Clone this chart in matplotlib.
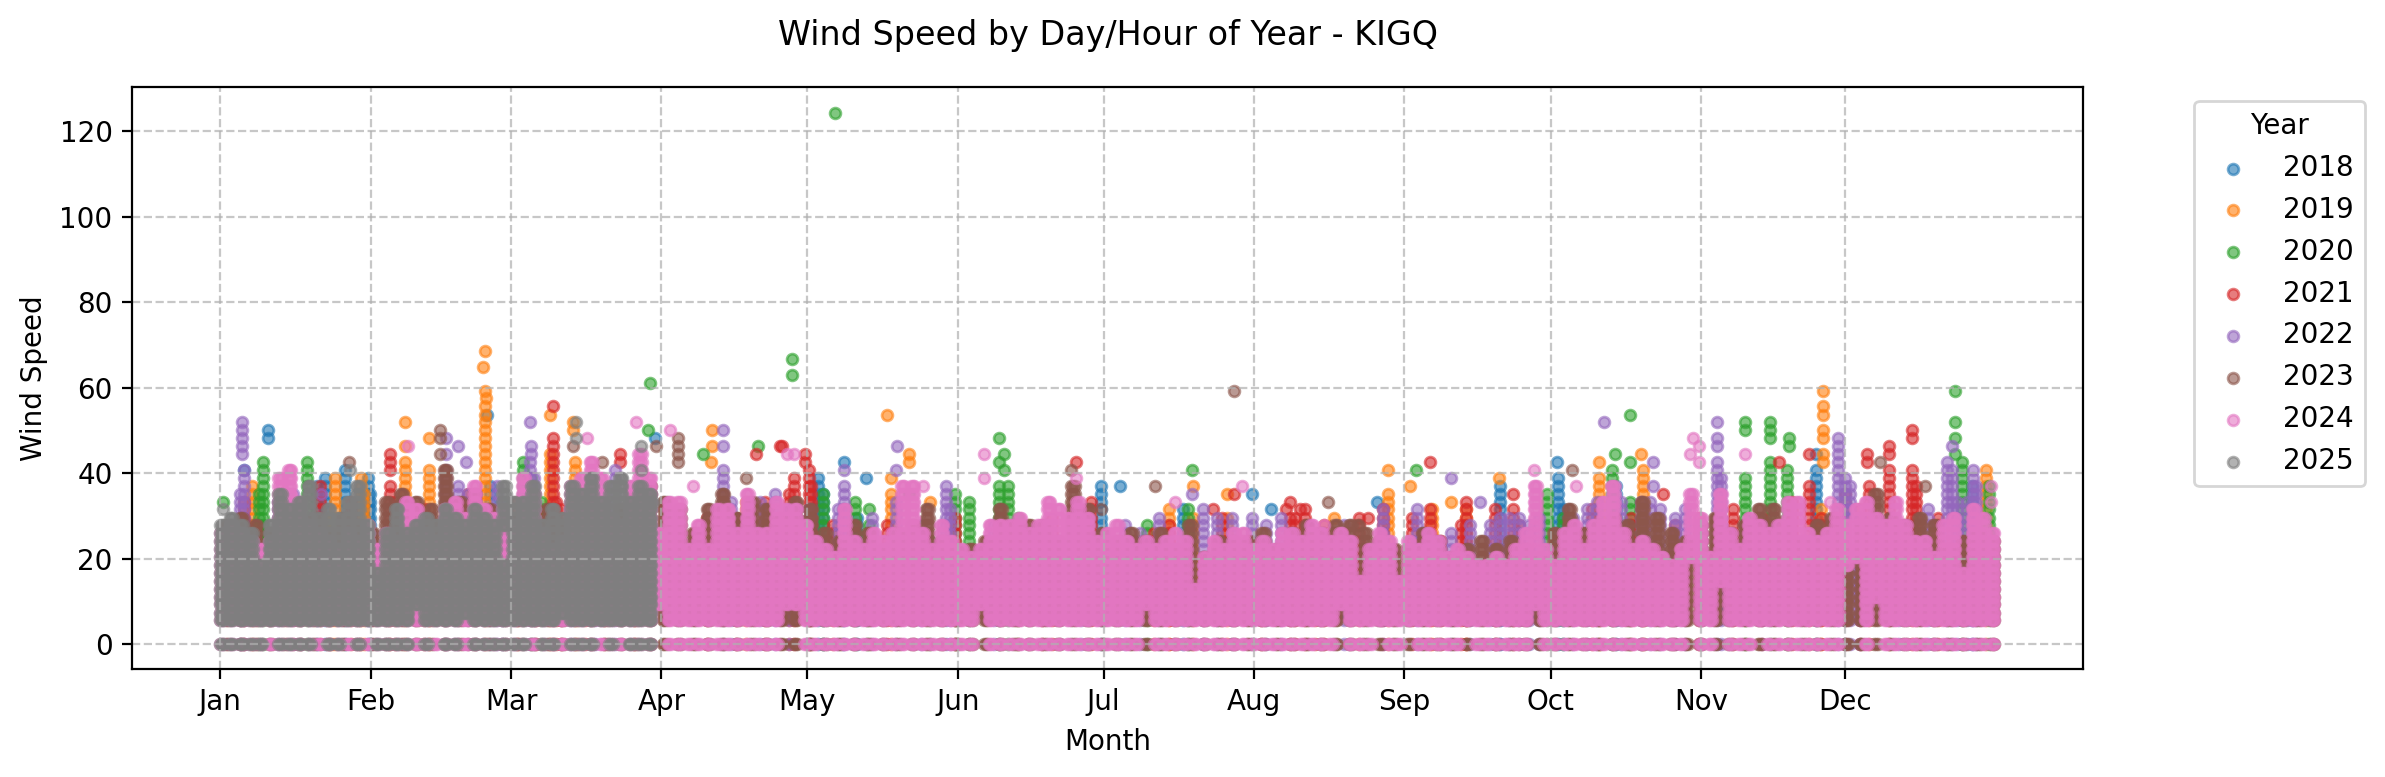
import matplotlib
matplotlib.use("Agg")
import matplotlib.pyplot as plt

# Values. x is day of year, y is wind speed.
years = [2018, 2019, 2020, 2021, 2022, 2023, 2024, 2025]
year_colors = ["tab:blue", "tab:orange", "tab:green", "tab:red", "tab:purple", "tab:brown", "tab:pink", "tab:gray"]
month_days = [1, 32, 60.85, 91.7, 121.7, 152.7, 182.6, 213.5, 244.3, 274.5, 305.4, 335]
month_labels = ["Jan", "Feb", "Mar", "Apr", "May", "Jun", "Jul", "Aug", "Sep", "Oct", "Nov", "Dec"]

# Speeds are reported in fixed steps, a day's stack uses these up to its top
speed_steps = [0, 5.6, 7.4, 9.3, 11.1, 13.0, 14.8, 16.7, 18.5, 20.4, 22.2, 24.1, 25.9, 27.8, 29.6,
               31.5, 33.3, 35.2, 37.0, 38.9, 40.7, 42.6, 44.5, 46.3, 48.2, 50.0, 51.9, 53.7, 55.6, 57.5, 59.3]

# Isolated readings
pts_days_2018 = [10.9, 10.9, 55.9, 90.4, 129.3, 133.8, 186, 213, 217, 275.7, 329, 6, 238.7]
pts_speed_2018 = [50.0, 48.2, 53.7, 48.2, 42.6, 38.9, 37.0, 35.2, 31.5, 42.6, 44.5, 40.7, 33.3]
pts_days_2019 = [39, 39, 44, 55.5, 55, 68.8, 73.5, 73.5, 102.2, 102.2, 101.9, 138, 142.7, 142.7, 139, 147,
                 201, 208, 230, 241, 241, 245.6, 263.8, 254, 284.5, 293, 293.5, 284.5, 330.5, 330.5,
                 330.5, 330.5, 330.5, 330.5, 330.5, 364,
                 55.4, 55.6, 55.5, 55.4, 55.5, 55.4, 55.5, 55.4]
pts_speed_2019 = [51.9, 46.3, 48.2, 68.5, 64.9, 53.7, 51.9, 50.0, 50.0, 46.3, 42.6, 53.7, 44.5, 42.6, 38.9, 33.3,
                  37.0, 35.2, 29.6, 40.7, 35.2, 37.0, 38.9, 33.3, 42.6, 44.5, 40.7, 38.9, 59.3, 55.6,
                  53.7, 50.0, 48.2, 44.5, 42.6, 40.7,
                  59.3, 57.5, 55.6, 53.7, 51.9, 50.0, 48.2, 46.3]
pts_days_2020 = [127.4, 118.6, 118.6, 89, 111.6, 89.4, 100.2, 161.2, 162.2, 161.2, 162.2, 200.7, 191.5, 246.8,
                 290.7, 287.7, 290.7, 314.5, 314.5, 319.5, 319.5, 319.5, 323.5, 323.5, 357.5, 357.5, 357.5, 357.5,
                 134.3, 134.3, 1.7, 142.6]
pts_speed_2020 = [124.3, 66.7, 63.0, 50.0, 46.3, 61.1, 44.5, 48.2, 44.5, 42.6, 40.7, 40.7, 27.8, 40.7,
                  53.7, 44.5, 42.6, 51.9, 50.0, 51.9, 50.0, 48.2, 48.2, 46.3, 59.3, 51.9, 48.2, 44.5,
                  31.5, 27.8, 33.3, 35.2]
pts_days_2021 = [36, 36, 36, 69.5, 83.2, 83.2, 111.2, 116, 116.4, 121.2, 121.2, 177, 205, 220, 221, 223,
                 237, 249.7, 266.8, 327.5, 321.5, 339.5, 339.5, 344, 344, 348.7, 348.7, 297.5, 209.5]
pts_speed_2021 = [44.5, 42.6, 40.7, 55.6, 44.5, 42.6, 44.5, 46.3, 46.3, 44.5, 42.6, 42.6, 31.5, 31.5, 33.3, 31.5,
                  29.6, 42.6, 35.2, 44.5, 42.6, 44.5, 42.6, 46.3, 44.5, 50.0, 48.2, 35.2, 35.2]
pts_days_2022 = [5.5, 5.5, 5.5, 5.5, 5.5, 47.4, 47.4, 50, 51.5, 64.7, 64.9, 64.9, 104.3, 104.3, 129.3, 140.2, 140,
                 254, 260, 285.5, 295.6, 295.6, 308.6, 308.6, 308.6, 200.7, 333.6, 333.6, 357, 21.8]
pts_speed_2022 = [51.9, 50.0, 48.2, 46.3, 44.5, 48.2, 44.5, 46.3, 42.6, 51.9, 46.3, 44.5, 50.0, 46.3, 40.7, 46.3, 40.7,
                  38.9, 33.3, 51.9, 42.6, 37.0, 51.9, 48.2, 46.3, 35.2, 48.2, 46.3, 46.3, 35.2]
pts_days_2023 = [27.6, 46.2, 46.2, 46.2, 79.4, 73.5, 90.7, 95.2, 95.2, 95.2, 95.2, 109, 209.3, 176, 193.2, 228.8,
                 182, 235, 278.8, 342.2, 351.4, 234.6]
pts_speed_2023 = [42.6, 50.0, 48.2, 44.5, 42.6, 46.3, 46.3, 48.2, 46.3, 44.5, 42.6, 38.9, 59.3, 40.7, 37.0, 33.3,
                  31.5, 27.8, 40.7, 42.6, 37.0, 27.8]
pts_days_2024 = [39.7, 76.5, 86.4, 93.5, 98.3, 117.5, 119, 145.4, 158, 158, 197.3, 211, 228, 271, 279.7, 303.7, 305,
                 303.2, 305, 314.5, 365, 365, 177, 286.8, 332]
pts_speed_2024 = [46.3, 48.2, 51.9, 50.0, 37.0, 44.5, 44.5, 37.0, 44.5, 38.9, 33.3, 37.0, 27.8, 40.7, 37.0, 48.2, 46.3,
                  44.5, 42.6, 44.5, 37.0, 33.3, 38.9, 37.0, 33.3]
pts_days_2025 = [1.7, 27.7, 74.2, 74.2, 87.5, 87.5, 90]
pts_speed_2025 = [31.5, 40.7, 51.9, 48.2, 46.3, 40.7, 33.3]

# Days where a year's readings stack up from the floor, with the top of each stack
col_days_2018 = [21, 22.6, 26.7, 31.5, 31.9, 56.5, 59, 124, 125, 132, 182, 199, 276, 277, 288, 329, 361, 264, 129]
col_top_2018 = [37.0, 38.9, 40.7, 38.9, 35.2, 37.0, 33.3, 38.9, 35.2, 29.6, 37.0, 31.5, 38.9, 31.5, 37.0, 40.7, 37.0, 37.0, 31.5]
col_days_2019 = [7.5, 24.6, 30, 39, 44, 55.5, 68.8, 74, 109, 139, 196, 201, 208, 241, 250, 257, 284.5, 293.5, 330, 364, 24, 30.5]
col_top_2019 = [37.0, 38.9, 38.9, 42.6, 40.7, 44.5, 44.5, 42.6, 33.3, 35.2, 31.5, 29.6, 29.6, 33.3, 31.5, 31.5, 37.0, 38.9, 31.5, 38.9, 29.6, 35.2]
col_days_2020 = [9.9, 18.8, 9, 63.3, 65, 67, 125, 131.5, 134, 155, 161, 163, 165, 191.5, 200, 273.7, 277, 287, 290.7, 314.5,
                 319.5, 323, 359, 364.5, 147, 152]
col_top_2020 = [42.6, 42.6, 35.2, 42.6, 38.9, 33.3, 35.2, 33.3, 25.9, 33.3, 37.0, 37.0, 29.6, 25.9, 31.5, 35.2, 29.6, 40.7, 33.3, 38.9,
                42.6, 40.7, 42.6, 37.0, 24.1, 35.2]
col_days_2021 = [21.5, 36, 37, 69.5, 70, 71, 122, 122.5, 119, 170, 196, 207, 222, 224, 226, 249.7, 257, 256, 263, 266.8, 327.5,
                 335, 340, 344, 348.7, 349.5, 165, 6, 118,
                 16, 28, 43, 52, 62, 66, 76, 80, 86, 101, 107, 113, 127, 138, 152, 172, 180, 193, 215, 221, 228, 235, 240, 246, 252,
                 268, 283, 291, 300, 305, 312, 318, 324, 330, 338, 354]
col_top_2021 = [37.0, 37.0, 33.3, 48.2, 33.3, 31.5, 40.7, 37.0, 38.9, 25.9, 27.8, 29.6, 29.6, 31.5, 25.9, 31.5, 33.3, 27.8, 31.5, 31.5, 37.0,
                35.2, 37.0, 40.7, 40.7, 37.0, 25.9, 33.3, 35.2,
                31.5, 33.3, 31.5, 35.2, 33.3, 31.5, 35.2, 33.3, 35.2, 29.6, 29.6, 33.3, 27.8, 27.8, 29.6, 29.6, 33.3, 25.9, 24.1, 29.6, 27.8, 29.6, 31.5, 29.6, 24.1,
                27.8, 31.5, 29.6, 27.8, 29.6, 31.5, 29.6, 33.3, 29.6, 31.5, 29.6]
col_days_2022 = [5, 6, 47.4, 50, 52, 64.7, 65.5, 73, 104.3, 106, 122, 129.3, 128, 140, 150.2, 151, 160, 187, 203, 213, 216, 258, 264, 268,
                 284, 293, 297, 308.6, 309.5, 333.6, 335, 336, 356, 357, 358, 360, 361.2, 362, 82.2, 295,
                 262, 266, 270, 254, 300, 302, 318, 338, 346, 352, 13, 16, 58, 78, 112, 115, 118, 135, 145, 178, 190, 194, 206, 209, 219,
                 232, 240, 247, 272, 279, 282, 289]
col_top_2022 = [35.2, 40.7, 40.7, 37.0, 35.2, 42.6, 38.9, 31.5, 40.7, 33.3, 31.5, 37.0, 31.5, 33.3, 37.0, 31.5, 27.8, 27.8, 31.5, 29.6, 27.8, 27.8, 29.6, 29.6,
                33.3, 33.3, 31.5, 42.6, 38.9, 44.5, 38.9, 37.0, 42.6, 40.7, 33.3, 33.3, 40.7, 37.0, 40.7, 33.3,
                27.8, 29.6, 27.8, 25.9, 29.6, 31.5, 27.8, 29.6, 27.8, 31.5, 33.3, 35.2, 37.0, 33.3, 33.3, 35.2, 31.5, 29.6, 27.8, 27.8, 25.9, 29.6, 29.6, 29.6, 29.6,
                27.8, 31.5, 31.5, 29.6, 29.6, 31.5, 33.3]

# Top of the day's readings for the three years that cover the band
band_days_2023 = list(range(2, 366, 3))
band_top_2023 = [27.8, 29.6, 27.8, 25.9, 27.8, 29.6, 29.6, 25.9, 29.6, 27.8, 25.9, 33.3, 35.2, 33.3, 31.5, 40.7, 33.3, 35.2, 31.5, 29.6,
                 29.6, 27.8, 31.5, 27.8, 31.5, 33.3, 29.6, 31.5, 29.6, 37.0, 33.3, 31.5, 25.9, 31.5, 35.2, 29.6, 33.3, 31.5, 29.6, 33.3,
                 31.5, 25.9, 24.1, 27.8, 25.9, 22.2, 25.9, 27.8, 31.5, 24.1, 22.2, 22.2, 24.1, 31.5, 27.8, 27.8, 27.8, 24.1, 37.0, 31.5,
                 25.9, 24.1, 25.9, 24.1, 25.9, 22.2, 27.8, 20.4, 24.1, 24.1, 24.1, 25.9, 22.2, 25.9, 27.8, 25.9, 27.8, 27.8, 25.9, 24.1,
                 22.2, 22.2, 25.9, 24.1, 20.4, 22.2, 24.1, 22.2, 24.1, 22.2, 20.4, 25.9, 31.5, 25.9, 27.8, 29.6, 27.8, 33.3, 29.6, 25.9,
                 24.1, 27.8, 29.6, 25.9, 27.8, 31.5, 31.5, 27.8, 24.1, 27.8, 29.6, 22.2, 27.8, 35.2, 29.6, 27.8, 29.6, 27.8, 22.2, 24.1,
                 25.9, 24.1]
band_days_2024 = list(range(1, 366, 2))
band_top_2024 = [25.9, 27.8, 25.9, 24.1, 22.2, 24.1, 38.9, 40.7, 33.3, 27.8, 25.9, 24.1, 22.2, 25.9, 24.1, 27.8, 22.2, 25.9, 24.1, 33.3,
                 31.5, 25.9, 24.1, 31.5, 33.3, 29.6, 37.0, 31.5, 29.6, 31.5, 27.8, 38.9, 35.2, 25.9, 22.2, 24.1, 37.0, 38.9, 42.6, 38.9,
                 29.6, 27.8, 37.0, 44.5, 38.9,
                 25.9, 33.3, 33.3, 22.2, 27.8, 22.2, 31.5, 31.5, 25.9, 35.2, 25.9, 25.9, 33.3, 31.5, 31.5, 27.8, 24.1, 22.2, 20.4, 31.5,
                 24.1, 22.2, 25.9, 24.1, 25.9, 37.0, 37.0, 25.9, 22.2, 27.8, 24.1, 22.2, 20.4, 22.2, 27.8, 27.8, 27.8, 29.6, 25.9, 27.8,
                 33.3, 31.5, 29.6, 33.3, 29.6, 24.1, 25.9, 27.8, 24.1, 22.2, 24.1, 22.2, 24.1, 25.9, 24.1, 22.2, 20.4, 24.1, 22.2, 25.9,
                 25.9, 22.2, 24.1, 22.2, 25.9, 25.9, 24.1, 27.8, 25.9, 24.1, 25.9, 24.1, 20.4, 22.2, 25.9, 24.1, 22.2, 24.1, 22.2, 25.9,
                 24.1, 20.4, 22.2, 20.4, 18.5, 18.5, 20.4, 18.5, 22.2, 25.9, 37.0, 22.2, 18.5, 25.9, 27.8, 22.2, 27.8, 33.3, 37.0, 25.9,
                 22.2, 24.1, 22.2, 20.4, 18.5, 22.2, 35.2, 29.6, 20.4, 35.2, 25.9, 22.2, 29.6, 27.8, 25.9, 27.8, 33.3, 33.3, 25.9, 24.1,
                 25.9, 31.5, 27.8, 31.5, 33.3, 29.6, 27.8, 33.3, 27.8, 24.1, 24.1, 20.4, 27.8, 29.6, 24.1, 31.5, 29.6, 25.9]
band_days_2025 = list(range(1, 90, 2))
band_top_2025 = [27.8, 29.6, 27.8, 25.9, 24.1, 27.8, 35.2, 31.5, 33.3, 37.0, 29.6, 31.5, 29.6, 33.3, 37.0, 27.8, 24.1, 25.9, 31.5, 25.9,
                 27.8, 29.6, 27.8, 31.5, 29.6, 27.8, 31.5, 29.6, 27.8, 37.0, 33.3, 33.3, 37.0, 27.8, 31.5, 29.6, 37.0, 35.2, 38.9, 33.3,
                 37.0, 38.9, 33.3, 37.0, 35.2]

# Stretches of a day with no readings, so the year underneath shows through
gap_days_2024 = [91, 117, 119, 157, 191, 201, 235, 243, 271, 303, 303, 309, 335, 337, 341, 359, 239, 245, 257, 317, 231]
gap_low_2024 = [0, 0, 0, 0, 0, 14.8, 16.7, 16.7, 0, 0, 14.8, 0, 0, 0, 0, 18.5, 0, 0, 0, 0, 0]
gap_high_2024 = [7.4, 7.4, 7.4, 7.4, 7.4, 24.1, 29.6, 24.1, 7.4, 13.0, 18.5, 13.0, 16.7, 18.5, 9.3, 33.3, 0, 0, 0, 0, 7.4]
gap_days_2025 = [9, 11, 21, 27, 31, 33, 41, 45, 51, 59, 65, 71, 79, 83]
gap_low_2025 = [20.4, 0, 0, 0, 0, 18.5, 0, 0, 0, 20.4, 0, 0, 0, 0]
gap_high_2025 = [25.9, 0, 0, 0, 0, 24.1, 7.4, 0, 5.6, 25.9, 0, 5.6, 0, 0]

band_fractions = [0.0, 0.33, 0.67]
column_fractions = [0.0]


def in_gap(day, speed, gap_days, gap_low, gap_high):
    for g_day, low, high in zip(gap_days, gap_low, gap_high):
        if day == g_day and low <= speed <= high:
            return True
    return False


def expand_stacks(days, tops, fractions, gap_days=(), gap_low=(), gap_high=()):
    """Turn (day, top) pairs into one point per reported speed step."""
    xs, ys = [], []
    for day, top in zip(days, tops):
        for speed in speed_steps:
            if speed > top or in_gap(day, speed, gap_days, gap_low, gap_high):
                continue
            for frac in fractions:
                xs.append(day + frac)
                ys.append(speed)
    return xs, ys


series = [
    (col_days_2018, col_top_2018, pts_days_2018, pts_speed_2018),
    (col_days_2019, col_top_2019, pts_days_2019, pts_speed_2019),
    (col_days_2020, col_top_2020, pts_days_2020, pts_speed_2020),
    (col_days_2021, col_top_2021, pts_days_2021, pts_speed_2021),
    (col_days_2022, col_top_2022, pts_days_2022, pts_speed_2022),
    (band_days_2023, band_top_2023, pts_days_2023, pts_speed_2023),
    (band_days_2024, band_top_2024, pts_days_2024, pts_speed_2024),
    (band_days_2025, band_top_2025, pts_days_2025, pts_speed_2025),
]
gaps = {
    2024: (gap_days_2024, gap_low_2024, gap_high_2024),
    2025: (gap_days_2025, gap_low_2025, gap_high_2025),
}

fig, ax = plt.subplots(figsize=(11.925, 3.885))
fig.subplots_adjust(left=132 / 2385, right=2083 / 2385, top=1 - 87 / 777, bottom=1 - 669 / 777)

for year, color, (stack_days, stack_tops, pt_days, pt_speeds) in zip(years, year_colors, series):
    fractions = band_fractions if year >= 2023 else column_fractions
    xs, ys = expand_stacks(stack_days, stack_tops, fractions, *gaps.get(year, ()))
    # explicit edge on top of the fill gives the darker ring of the original markers
    ax.scatter(xs + pt_days, ys + pt_speeds, s=15, alpha=0.6, color=color, edgecolors=color,
               linewidths=1.0, label=str(year))

ax.set_xticks(month_days)
ax.set_xticklabels(month_labels)
ax.set_xlim(-17.1, 383.9)
ax.set_ylim(-5.8, 130.3)
ax.set_xlabel("Month")
ax.set_ylabel("Wind Speed")
ax.set_title("Wind Speed by Day/Hour of Year - KIGQ", pad=15)
ax.grid(True, linestyle="--", alpha=0.7)
ax.legend(title="Year", bbox_to_anchor=(1.05, 1), loc="upper left")

fig.savefig("out.png", dpi=200)
